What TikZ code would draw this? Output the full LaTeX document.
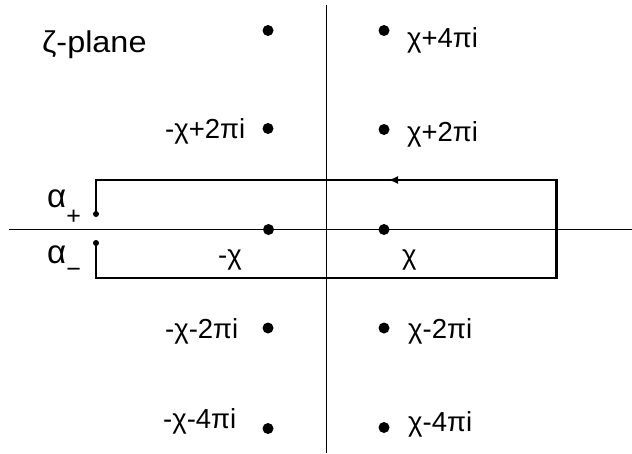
\documentclass[tikz,border=0pt]{standalone}
\usepackage{fontspec}
\setmainfont{Liberation Sans}
\usetikzlibrary{arrows.meta,decorations.markings}
\begin{document}
\begin{tikzpicture}[x=1pt,y=-1pt,
  lbl/.style={anchor=base west,inner sep=0pt,font=\fontsize{27.5}{32}\selectfont},
  pole/.style={circle,fill=black,inner sep=0pt,minimum size=11pt},
  endpt/.style={circle,fill=black,inner sep=0pt,minimum size=6pt},
  axis/.style={line width=1.2pt},
  contour/.style={line width=2.8pt,line join=miter}]
\useasboundingbox (0,0) rectangle (632,453);
% axes
\coordinate (xl) at (9,229.5);
\coordinate (xr) at (632,229.5);
\coordinate (yt) at (326.5,5);
\coordinate (yb) at (326.5,453);
\draw[axis] (xl) -- (xr);
\draw[axis] (yt) -- (yb);
% poles
\node[pole] (pl4) at (268,30.5) {};
\node[pole] (pr4) at (384,30.5) {};
\node[pole] (pl2) at (268,128.5) {};
\node[pole] (pr2) at (384,129.5) {};
\node[pole] (pl0) at (268.5,229.5) {};
\node[pole] (pr0) at (384,229.5) {};
\node[pole] (plm2) at (268,328) {};
\node[pole] (prm2) at (384,328) {};
\node[pole] (plm4) at (268,428.5) {};
\node[pole] (prm4) at (384,427.5) {};
% contour
\node[endpt] (am) at (96,243) {};
\node[endpt] (ap) at (96,214) {};
\coordinate (c1) at (96,278);
\coordinate (c2) at (556.5,278);
\coordinate (c3) at (556.5,180);
\coordinate (c4) at (96,180);
\draw[contour,decoration={markings,mark=at position 762pt with {\arrow{Latex[length=10pt,width=8pt]}}},postaction={decorate}]
  (am.center) -- (c1) -- (c2) -- (c3) -- (c4) -- (ap.center);
% labels
\node[lbl,font=\fontsize{30}{34}\selectfont] (zeta) at (42,52) {\scalebox{1.08}[1]{ζ-plane}};
\node[lbl] (tr4) at (407,47) {χ+4πi};
\node[lbl] (tr2) at (407,141) {χ+2πi};
\node[lbl] (tl2) at (165,138) {-χ+2πi};
\node[lbl] (tl0) at (218,264) {-χ};
\node[lbl] (tr0) at (402,264) {χ};
\node[lbl] (tlm2) at (165,338) {-χ-2πi};
\node[lbl] (trm2) at (408,338) {χ-2πi};
\node[lbl] (tlm4) at (163,428) {-χ-4πi};
\node[lbl] (trm4) at (408,431) {χ-4πi};
\node[lbl] (alp) at (47,207) {{\fontsize{33}{33}\selectfont α}\raisebox{-17pt}{\fontsize{25}{25}\selectfont +}};
\node[lbl] (alm) at (47,263) {{\fontsize{33}{33}\selectfont α}\raisebox{-14pt}{\fontsize{25}{25}\selectfont −}};
\end{tikzpicture}
\end{document}
